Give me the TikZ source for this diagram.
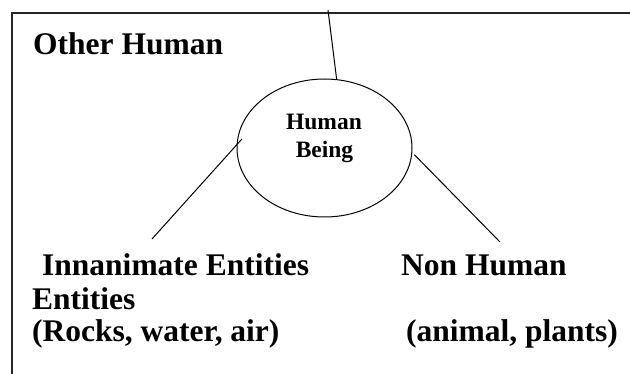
\documentclass[tikz,border=0pt]{standalone}
\usepackage{fontspec}
\setmainfont{Liberation Serif}
\usepackage{tikz}
\usetikzlibrary{shapes.geometric}
\tikzset{
  bigtext/.style={anchor=base west,inner sep=0pt,font=\fontsize{31.5}{33}\selectfont\bfseries},
  smalltext/.style={anchor=base,inner sep=0pt,font=\fontsize{23.5}{28}\selectfont\bfseries},
  link/.style={line width=1pt,draw=black},
  frameline/.style={line width=1.5pt,draw=black!85}
}

\begin{document}
\begin{tikzpicture}[
  x=1pt,y=-1pt,
  circ/.style={ellipse,draw,line width=1pt,minimum width=175pt,minimum height=138pt,inner sep=0pt}
]
  \useasboundingbox (0,0) rectangle (630,374);

  % open frame
  \draw[frameline] (630,13) -- (12,13) -- (12,374);

  \node[circ] (being) at (324.5,148) {};
  \node[smalltext] (human) at (324,130) {Human};
  \node[smalltext] (beingtxt) at (324.5,158) {Being};

  \node[bigtext] (other) at (33,55) {Other Human};
  \node[bigtext] (innanimate) at (42,276) {Innanimate Entities};
  \node[bigtext] (entities) at (32,310) {Entities};
  \node[bigtext] (rocks) at (32,342) {(Rocks, water, air)};
  \node[bigtext] (nonhuman) at (401,276) {Non Human};
  \node[bigtext] (animal) at (406,342) {(animal, plants)};

  \coordinate (topend) at (328,10);
  \coordinate (leftend) at (152,239);
  \coordinate (rightend) at (500,242);

  \draw[link] (topend) -- (being.80);
  \draw[link,shorten >=-8pt] (leftend) -- (being.178);
  \draw[link,shorten <=3pt] (being.-3) -- (rightend);

\end{tikzpicture}
\end{document}
